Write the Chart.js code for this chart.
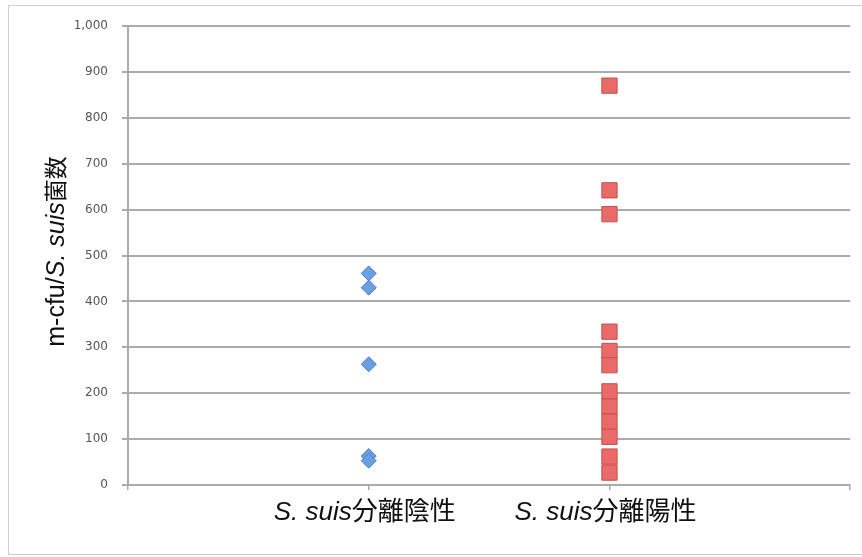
<!DOCTYPE html>
<html>
<head>
<meta charset="utf-8">
<script src="https://cdn.jsdelivr.net/npm/chart.js@4.4.0/dist/chart.umd.min.js"></script>
<style>
  html, body { margin: 0; padding: 0; background: #fff; }
  #wrap { width: 862px; height: 557px; position: relative; }
</style>
</head>
<body>
<div id="wrap"><canvas id="scatterChart"></canvas></div>
<script>
// x categories: italic species name followed by the group label
const speciesName = 'S. suis';
const categories = ['分離陰性', '分離陽性'];

// m-cfu / S. suis counts
const negativeValues = [461, 430, 263, 63, 53];
const positiveValues = [870, 642, 590, 334, 292, 261, 204, 171, 138, 105, 62, 27];

// y axis range and step
const yMin = 0;
const yMax = 1000;
const yStep = 100;

// axis title pieces
const titlePrefix = 'm-cfu/';
const titleSuffix = '菌数';

const latinFont = "'Liberation Sans', Arial, sans-serif";
const cjkFont = "'Noto Sans CJK JP', 'Noto Sans CJK SC', sans-serif";
const lineGray = '#ababab';

// draw a run of text pieces with different fonts, centred on x = 0
function drawParts(ctx, parts) {
  let total = 0;
  parts.forEach(p => {
    ctx.font = p.font;
    p.w = ctx.measureText(p.text).width;
    total += p.w;
  });
  let x = -total / 2;
  parts.forEach(p => {
    ctx.font = p.font;
    ctx.fillText(p.text, x, 0);
    x += p.w;
  });
}

const textPlugin = {
  id: 'richText',
  beforeDraw(chart) {
    const ctx = chart.ctx;
    ctx.save();
    ctx.fillStyle = '#fff';
    ctx.fillRect(0, 0, chart.width, chart.height);
    // light outer frame
    ctx.strokeStyle = '#cfcfcf';
    ctx.lineWidth = 1;
    ctx.strokeRect(8.5, 5.5, chart.width + 10, chart.height - 8);
    ctx.restore();
  },
  afterDraw(chart) {
    const ctx = chart.ctx;
    const xScale = chart.scales.x;
    const area = chart.chartArea;
    ctx.save();
    ctx.fillStyle = '#111';
    ctx.textBaseline = 'alphabetic';

    // category labels under the axis
    categories.forEach((label, i) => {
      ctx.save();
      ctx.translate(xScale.getPixelForValue(i + 1) - 4, area.bottom + 35);
      drawParts(ctx, [
        { text: speciesName, font: 'italic 26px ' + latinFont },
        { text: label, font: '26px ' + cjkFont }
      ]);
      ctx.restore();
    });

    // rotated y axis title
    ctx.save();
    ctx.translate(64, (area.top + area.bottom) / 2 - 4);
    ctx.rotate(-Math.PI / 2);
    drawParts(ctx, [
      { text: titlePrefix, font: '25px ' + latinFont },
      { text: speciesName, font: 'italic 25px ' + latinFont },
      { text: titleSuffix, font: '23px ' + cjkFont }
    ]);
    ctx.restore();

    ctx.restore();
  }
};

const ctx = document.getElementById('scatterChart');
new Chart(ctx, {
  type: 'scatter',
  data: {
    datasets: [
      {
        label: speciesName + categories[0],
        data: negativeValues.map(v => ({ x: 1, y: v })),
        pointStyle: 'rectRot',
        pointRadius: 7.5,
        backgroundColor: '#6a9fe2',
        borderColor: '#4a7dc6',
        borderWidth: 1
      },
      {
        label: speciesName + categories[1],
        data: positiveValues.map(v => ({ x: 2, y: v })),
        pointStyle: 'rect',
        pointRadius: 10.8,
        backgroundColor: '#ea6a6a',
        borderColor: '#c65050',
        borderWidth: 1
      }
    ]
  },
  options: {
    responsive: true,
    maintainAspectRatio: false,
    animation: false,
    layout: { padding: { top: 26, right: 11, bottom: 0, left: 0 } },
    plugins: {
      legend: { display: false },
      tooltip: { enabled: false }
    },
    scales: {
      x: {
        type: 'linear',
        min: 0,
        max: categories.length + 1,
        ticks: { stepSize: 1, display: false },
        grid: { drawOnChartArea: false, drawTicks: true, tickLength: 5, color: lineGray, lineWidth: 1.5 },
        border: { color: lineGray, width: 2 },
        afterFit: s => { s.height = 72; }
      },
      y: {
        min: yMin,
        max: yMax,
        ticks: {
          stepSize: yStep,
          color: '#555',
          padding: 14,
          font: { family: 'DejaVu Sans', size: 12 },
          callback: v => v.toLocaleString('en-US')
        },
        grid: { color: lineGray, lineWidth: 2, tickLength: 6 },
        border: { color: lineGray, width: 2 },
        afterFit: s => { s.width = 128; }
      }
    }
  },
  plugins: [textPlugin]
});
</script>
</body>
</html>
